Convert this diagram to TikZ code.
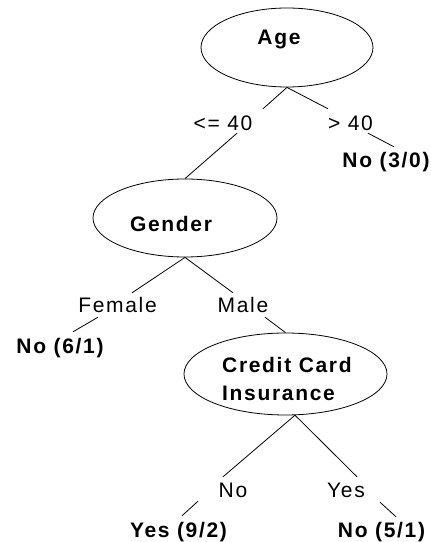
\documentclass[tikz,border=0pt]{standalone}
\usepackage{fontspec}
\setmainfont{Liberation Sans}[LetterSpace=8]
\usetikzlibrary{shapes.geometric,calc}
\begin{document}
\begin{tikzpicture}[x=1pt,y=1pt,
  ell/.style={draw, ellipse, inner sep=0pt, line width=0.8pt},
  lbl/.style={anchor=base, inner sep=0pt, text height=15pt, text depth=0pt, font=\fontsize{21}{25}\selectfont},
  lblb/.style={lbl, font=\bfseries\fontsize{21}{25}\selectfont},
  conn/.style={line width=0.8pt}]
\useasboundingbox (0,0) rectangle (431,542);
% nodes
\node[ell, minimum width=172pt, minimum height=79pt] (age) at (287,494.5) {};
\node[lblb] (agetxt) at (279,497) {Age};
\node[lbl] (lt40) at (223,411) {<= 40};
\node[lbl] (gt40) at (350.5,411) {> 40};
\node[lblb] (no30) at (386,374) {No (3/0)};
\node[ell, minimum width=184pt, minimum height=78pt] (gender) at (185,324) {};
\node[lblb] (gendertxt) at (171,310) {Gender};
\node[lbl] (female) at (117.5,229) {Female};
\node[lbl] (male) at (243,229) {Male};
\node[lblb] (no61) at (60,188) {No (6/1)};
\node[ell, minimum width=203pt, minimum height=82pt] (cci) at (285.5,168) {};
\node[anchor=north west, inner sep=0pt, align=left, font=\bfseries\fontsize{21}{28}\selectfont] (ccitxt) at (222,185) {Credit Card\\Insurance};
\node[lbl] (no) at (233,45) {No};
\node[lbl] (yes) at (346,45) {Yes};
\node[lblb] (yes92) at (178.5,5) {Yes (9/2)};
\node[lblb] (no51) at (381.5,5) {No (5/1)};
% connectors
\draw[conn] (age.south) -- ($(lt40.north)+(40,7)$);
\draw[conn] (age.south) -- ($(gt40.north)+(-22.5,7)$);
\draw[conn] ($(lt40.south)+(14,-2)$) -- (gender.north);
\draw[conn] ($(gt40.south)+(17.5,-2)$) -- ($(no30.north)+(8,6)$);
\draw[conn] (gender.south) -- ($(female.north)+(14.5,5)$);
\draw[conn] (gender.south) -- ($(male.north)+(-10,5)$);
\draw[conn] ($(female.south)+(-19.5,-4)$) -- ($(no61.north)+(13,7)$);
\draw[conn] ($(male.south)+(22,-4)$) -- (cci.north);
\draw[conn] (cci.-77) -- ($(no.north)+(-10,5)$);
\draw[conn] (cci.-77) -- ($(yes.north)+(11,5)$);
\draw[conn] ($(no.south)+(-35,-4)$) -- ($(yes92.north)+(3.5,6)$);
\draw[conn] ($(yes.south)+(34,-5)$) -- ($(no51.north)+(14.5,5)$);
\end{tikzpicture}
\end{document}
